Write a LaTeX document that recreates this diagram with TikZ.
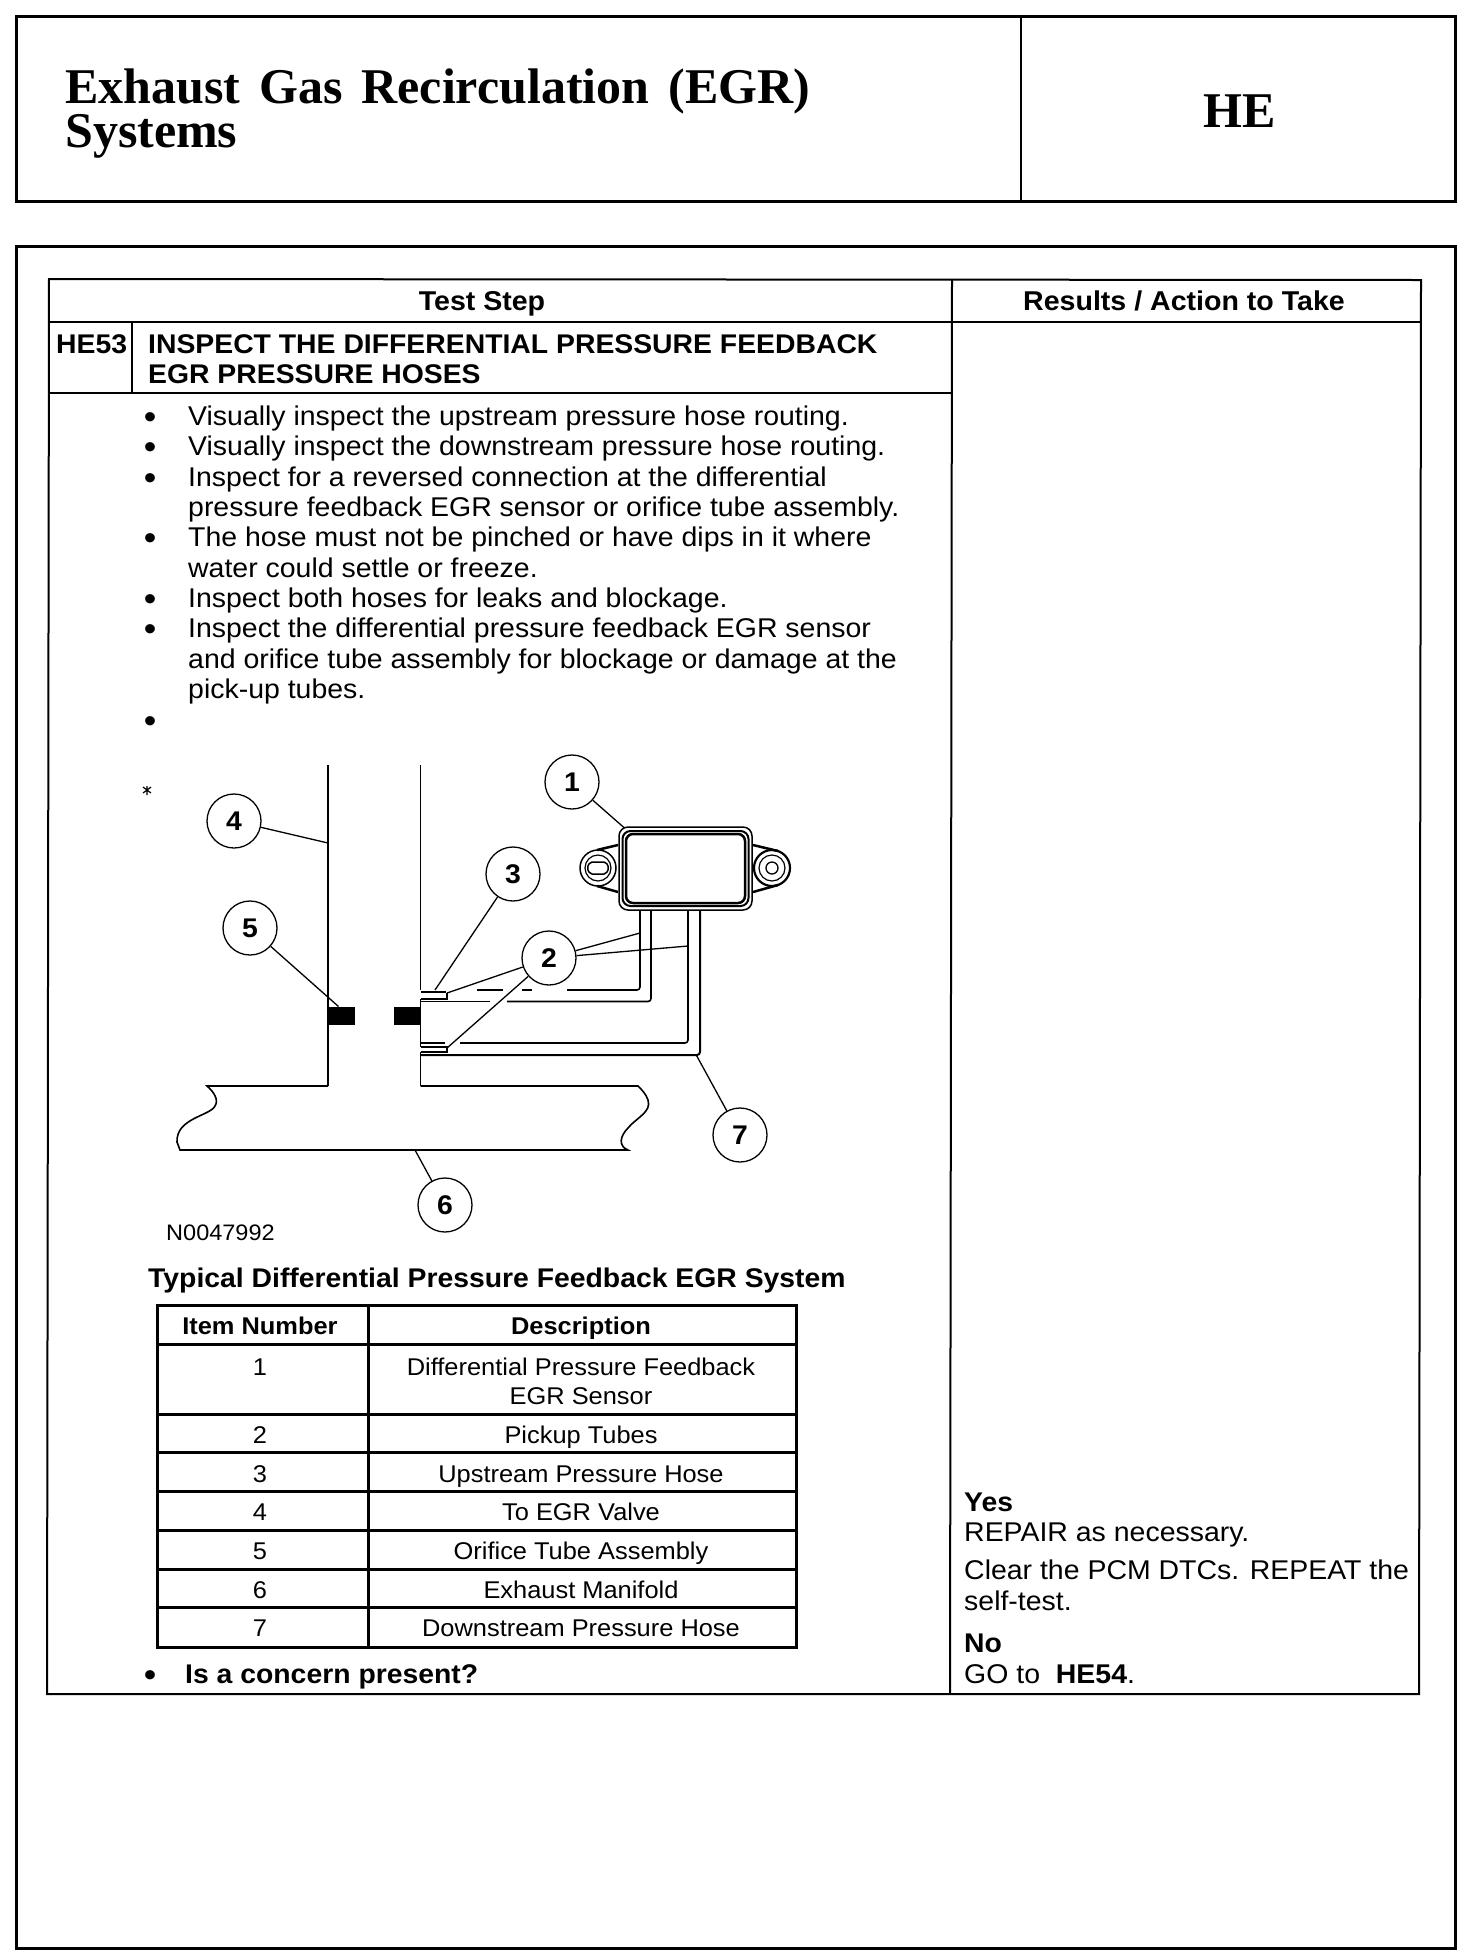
\documentclass[tikz,border=0pt]{standalone}
\usepackage{fontspec}
\setmainfont[FakeStretch=1.05]{Liberation Sans}
\newfontfamily\serifbold[BoldFont={Liberation Serif Bold}]{Liberation Serif}
\tikzset{
  x=1pt,y=-1pt,
  thin line/.style={line width=1.2pt,black},
  frame/.style={line width=3pt,black},
  rule/.style={line width=2pt,black},
  tubing/.style={line width=1.6pt,black,rounded corners=3pt},
  leader/.style={line width=1.3pt,black},
  callout/.style={circle,draw=black,line width=1.3pt,minimum size=54pt,inner sep=0pt,font=\fontsize{27}{30}\selectfont\bfseries},
  txt/.style={anchor=base west,inner sep=0pt,font=\fontsize{27.1}{30}\selectfont},
  btxt/.style={anchor=base west,inner sep=0pt,font=\fontsize{27}{30}\selectfont\bfseries},
  ctxt/.style={anchor=base,inner sep=0pt,font=\fontsize{24.2}{30}\selectfont},
  cbtxt/.style={anchor=base,inner sep=0pt,font=\fontsize{24.2}{30}\selectfont\bfseries},
  hdtxt/.style={anchor=base,inner sep=0pt,font=\fontsize{27.2}{30}\selectfont\bfseries},
  bul/.style={anchor=base,inner sep=0pt,yshift=-3pt,font=\fontsize{34}{34}\selectfont},
  titletxt/.style={anchor=base west,inner sep=0pt,font=\fontsize{50}{50}\selectfont\serifbold\bfseries},
}
\begin{document}
\begin{tikzpicture}
\useasboundingbox (0,0) rectangle (1472,1960);
% header
\draw[frame] (16,16) rectangle (1455,201);
\draw[line width=2pt] (1021,16) -- (1021,201);
\node[titletxt] (t1) at (65,103) {Exhaust\hspace{6.5pt} Gas\hspace{6.5pt} Recirculation\hspace{6.5pt} (EGR)};
\node[titletxt] (t2) at (65,147) {Systems};
\node[titletxt,anchor=base] (he) at (1240,127) {HE};
% outer frame
\draw[frame] (16,246) rectangle (1455,1948);
% main table
\draw[rule] (49,279) -- (1421,280) -- (1419,1694) -- (47,1694) -- cycle;
\draw[rule] (49,322) -- (1421,322);
\draw[rule] (952,279) -- (950,1694);
\draw[rule] (49,393) -- (952,393);
\draw[thin line] (132,322) -- (132,393);
\node[hdtxt] (h1) at (482,310.5) {Test Step};
\node[hdtxt] (h2) at (1184,310.5) {Results / Action to Take};
\node[btxt] (he53) at (56,353) {HE53};
\node[btxt] (ins1) at (148,353) {INSPECT THE DIFFERENTIAL PRESSURE FEEDBACK};
\node[btxt] (ins2) at (148,383) {EGR PRESSURE HOSES};
% bullets
\node[bul] (bu1) at (150,425) {•};
\node[txt] (l1) at (188,425) {Visually inspect the upstream pressure hose routing.};
\node[bul] (bu2) at (150,455.5) {•};
\node[txt] (l2) at (188,455.5) {Visually inspect the downstream pressure hose routing.};
\node[bul] (bu3) at (150,486) {•};
\node[txt] (l3) at (188,486) {Inspect for a reversed connection at the differential};
\node[txt] (l4) at (188,516) {pressure feedback EGR sensor or orifice tube assembly.};
\node[bul] (bu5) at (150,546.5) {•};
\node[txt] (l5) at (188,546.5) {The hose must not be pinched or have dips in it where};
\node[txt] (l6) at (188,577) {water could settle or freeze.};
\node[bul] (bu7) at (150,607) {•};
\node[txt] (l7) at (188,607) {Inspect both hoses for leaks and blockage.};
\node[bul] (bu8) at (150,637.5) {•};
\node[txt] (l8) at (188,637.5) {Inspect the differential pressure feedback EGR sensor};
\node[txt] (l9) at (188,668) {and orifice tube assembly for blockage or damage at the};
\node[txt] (l10) at (188,698) {pick-up tubes.};
\node[bul] (bu11) at (150,729) {•};
% speck
\draw[line width=1.2pt] (143,787) -- (151,793) (151,787) -- (143,793) (147,786) -- (147,795);
% pipes
\draw[line width=1.6pt] (328,765) -- (328,1086);
\draw[line width=1.6pt] (420.5,765) -- (420.5,990);
\draw[line width=1.6pt] (420.5,999) -- (420.5,1047);
\draw[line width=1.6pt] (420.5,1052) -- (420.5,1086);
% manifold
\draw[line width=1.6pt] (328,1086) -- (207,1086)
  .. controls (214,1092) and (219,1100) .. (215,1106)
  .. controls (210,1116) and (176,1118) .. (177,1142)
  -- (180,1150) -- (628,1150)
  .. controls (618,1146) and (620,1136) .. (628,1128)
  .. controls (636,1118) and (652,1112) .. (648,1100)
  .. controls (646,1094) and (642,1090) .. (638,1086) -- (420.5,1086);
% blocks
\fill[black] (328,1006.5) rectangle (354.5,1025);
\fill[black] (394,1006.5) rectangle (420,1025);
% sensor
\draw[line width=1.5pt,rounded corners=9pt] (619,827) rectangle (752,910);
\draw[line width=2pt,rounded corners=8pt] (622.5,831) rectangle (748.5,906);
\draw[line width=2.5pt,rounded corners=7pt] (626,834) rectangle (745,903);
% lugs
\draw[line width=1.5pt] (598,868) circle (18);
\draw[line width=1.2pt] (598,868) circle (13);
\draw[line width=1.5pt,rounded corners=2pt] (590,862) -- (606,862) -- (609,868) -- (606,874) -- (590,874) -- (587,868) -- cycle;
\draw[line width=2.5pt] (597,850) -- (618,845) (597,886) -- (618,892);
\draw[line width=2.2pt] (772,868) circle (18);
\draw[line width=1.2pt] (772,868) circle (13);
\draw[line width=1.3pt] (772,868) circle (6);
\draw[line width=2.5pt] (753,845) -- (778,851) (753,892) -- (778,885);
% upstream hose
\draw[tubing] (640,911) -- (640,990) -- (567,990);
\draw[line width=1.6pt] (522,990) -- (532,990) (477,990) -- (503,990);
\draw[line width=2.2pt] (420.5,992) -- (446,992);
\draw[tubing] (651,911) -- (651,1001.5) -- (507,1001.5);
\draw[line width=1.6pt] (490,1001.5) -- (420.5,1001.5);
\draw[line width=1.4pt] (420.5,999) -- (447,999) -- (447,993);
% downstream hose
\draw[tubing] (688,911) -- (688,1043) -- (460,1043);
\draw[line width=2pt] (420.5,1043) -- (445,1043);
\draw[line width=1.4pt] (420.5,1047) -- (447,1047) -- (447,1052) -- (420.5,1052);
\draw[tubing,line width=2pt] (700,911) -- (700,1055) -- (420.5,1055);
% callouts
\node[callout] (c1) at (572,782) {1};
\node[callout] (c2) at (549,958) {2};
\node[callout] (c3) at (513,874) {3};
\node[callout] (c4) at (234,821) {4};
\node[callout] (c5) at (250,928) {5};
\node[callout] (c6) at (445,1205) {6};
\node[callout] (c7) at (740,1135) {7};
\coordinate (p1) at (624.5,828);
\coordinate (p3) at (435,990);
\coordinate (p4) at (328,843);
\coordinate (p5) at (338.5,1006.5);
\coordinate (p6) at (415,1150);
\coordinate (p7) at (696,1054.5);
\coordinate (p2a) at (640,933);
\coordinate (p2b) at (688,946);
\coordinate (p2c) at (447,993);
\coordinate (p2d) at (447,1048);
\draw[leader] (c1) -- (p1);
\draw[leader] (c3) -- (p3);
\draw[leader] (c4) -- (p4);
\draw[leader] (c5) -- (p5);
\draw[leader] (c6) -- (p6);
\draw[leader] (c7) -- (p7);
\draw[leader] (c2) -- (p2a);
\draw[leader] (c2) -- (p2b);
\draw[leader] (c2) -- (p2c);
\draw[leader] (c2) -- (p2d);
\node[txt,font=\fontsize{22.4}{26}\selectfont] (fig) at (166,1240.5) {N0047992};
\node[btxt] (cap) at (148,1287) {Typical Differential Pressure Feedback EGR System};
% item table
\draw[frame] (157,1305) rectangle (796,1647);
\draw[frame] (368,1305) -- (368,1647);
\draw[frame] (157,1344) -- (796,1344);
\draw[frame] (157,1414) -- (796,1414);
\draw[frame] (157,1452) -- (796,1452);
\draw[frame] (157,1491) -- (796,1491);
\draw[frame] (157,1530) -- (796,1530);
\draw[frame] (157,1569) -- (796,1569);
\draw[frame] (157,1607) -- (796,1607);
\node[cbtxt] (th1) at (260,1334.5) {Item Number};
\node[cbtxt] (th2) at (581,1334.5) {Description};
\node[ctxt] (n1) at (260,1375.5) {1};
\node[ctxt] (d1) at (581,1375.5) {Differential Pressure Feedback};
\node[ctxt] (d1b) at (581,1404.5) {EGR Sensor};
\node[ctxt] (n2) at (260,1443.5) {2};
\node[ctxt] (d2) at (581,1443.5) {Pickup Tubes};
\node[ctxt] (n3) at (260,1482) {3};
\node[ctxt] (d3) at (581,1482) {Upstream Pressure Hose};
\node[ctxt] (n4) at (260,1520) {4};
\node[ctxt] (d4) at (581,1520) {To EGR Valve};
\node[ctxt] (n5) at (260,1559) {5};
\node[ctxt] (d5) at (581,1559) {Orifice Tube Assembly};
\node[ctxt] (n6) at (260,1598) {6};
\node[ctxt] (d6) at (581,1598) {Exhaust Manifold};
\node[ctxt] (n7) at (260,1636) {7};
\node[ctxt] (d7) at (581,1636) {Downstream Pressure Hose};
\node[bul] (bu12) at (150,1683) {•};
\node[btxt] (q) at (185,1683) {Is a concern present?};
% results
\node[btxt] (yes) at (964,1511) {Yes};
\node[txt] (r1) at (964,1541.5) {REPAIR as necessary.};
\node[txt] (r2) at (964,1579.5) {Clear the PCM DTCs. REPEAT the};
\node[txt] (r3) at (964,1610.5) {self-test.};
\node[btxt] (no) at (964,1652) {No};
\node[txt] (r4) at (964,1683) {GO to\ \ \textbf{HE54}.};
\end{tikzpicture}
\end{document}
